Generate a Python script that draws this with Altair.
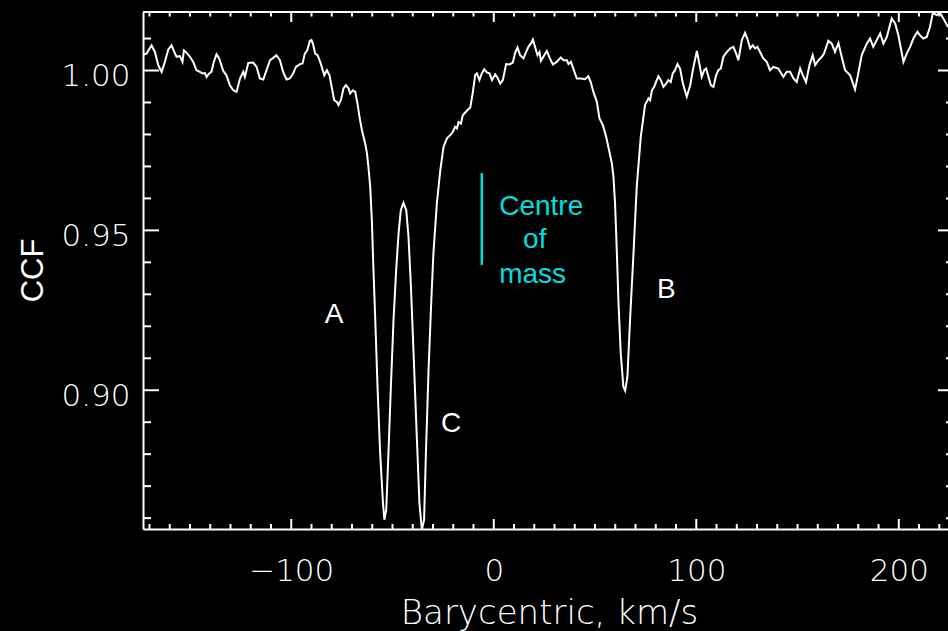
import altair as alt
import pandas as pd

# ---- CCF curve (km/s, CCF) ----
V = [-173.1, -171.4, -169.0, -167.3, -165.7, -164.0, -162.4, -160.7, -159.1, -157.4,
     -156.6, -155.0, -153.7, -153.0, -151.7, -150.0, -148.4, -146.8, -145.1, -143.8,
     -142.6, -141.8, -140.5, -139.4, -138.2, -136.9, -135.6, -133.6, -132.0, -130.3,
     -128.6, -127.0, -125.3, -123.7, -122.9, -121.2, -118.8, -117.1, -115.5, -113.8,
     -112.2, -110.5, -109.2, -107.3, -105.6, -104.0, -102.3, -100.7, -99.0, -97.7,
     -95.7, -94.4, -93.3, -92.1, -90.8, -90.0, -89.3, -88.2, -87.0, -86.0,
     -84.9, -83.7, -82.4, -81.1, -79.9, -78.8, -77.5, -76.7, -75.5, -74.2,
     -73.0, -71.7, -70.9, -69.6, -68.4, -67.3, -66.3, -65.1, -63.5, -62.6,
     -61.9, -61.0, -60.2, -59.4, -58.5, -57.4, -56.1, -54.7, -54.0, -53.1,
     -52.0, -50.8, -49.5, -48.2, -47.0, -45.9, -44.6, -43.2, -42.1, -40.9,
     -39.6, -38.0, -36.7, -35.5, -34.4, -33.5, -32.2, -30.9, -29.8, -28.1,
     -26.4, -24.8, -23.1, -21.5, -20.2, -19.1, -18.2, -17.4, -16.2, -15.3,
     -13.3, -11.6, -10.3, -9.2, -8.3, -7.1, -5.9, -4.7, -3.4, -2.1,
     -0.9, 0.7, 1.8, 3.2, 4.5, 6.1, 7.8, 9.4, 10.6, 11.7,
     13.0, 14.7, 16.0, 17.1, 18.3, 19.3, 20.4, 21.6, 22.6, 23.3,
     24.5, 26.2, 27.5, 29.2, 31.1, 33.1, 34.4, 36.1, 36.9, 38.1,
     39.3, 41.0, 43.0, 45.1, 46.7, 47.9, 49.2, 50.9, 52.2, 53.9,
     55.5, 57.1, 58.3, 59.1, 59.9, 60.8, 61.6, 62.7, 64.0, 64.9,
     66.0, 67.3, 69.0, 70.6, 72.6, 74.7, 76.4, 77.2, 78.1, 79.2,
     80.5, 81.3, 82.5, 83.8, 85.1, 86.2, 87.4, 88.4, 89.5, 90.7,
     92.0, 93.4, 95.3, 97.0, 98.6, 100.3, 101.5, 102.7, 103.9, 104.9,
     106.0, 107.2, 108.5, 109.8, 110.9, 112.1, 113.4, 115.1, 116.7, 118.3,
     119.7, 120.8, 122.5, 124.1, 125.2, 126.6, 127.9, 129.0, 130.2, 131.5,
     133.1, 134.8, 136.4, 138.1, 140.5, 143.0, 144.7, 146.3, 148.0, 149.6,
     151.3, 152.6, 154.2, 155.9, 157.5, 158.7, 160.3, 162.0, 163.1, 165.2,
     166.9, 168.5, 170.2, 171.8, 173.5, 176.0, 178.4, 180.0, 181.7, 184.2,
     185.8, 187.4, 189.1, 190.8, 192.4, 194.1, 196.5, 198.2, 199.8, 202.3,
     203.9, 205.6, 207.2, 209.2, 210.5, 212.1, 213.8, 215.4, 216.8, 218.7,
     220.4, 222.0, 224.3]

CCF = [1.0050, 1.0053, 1.0079, 1.0058, 1.0017, 0.9996, 1.0027, 1.0066, 1.0079, 1.0053,
       1.0043, 1.0045, 1.0027, 1.0063, 1.0056, 1.0043, 1.0027, 1.0001, 0.9996, 0.9991,
       0.9992, 0.9980, 0.9991, 0.9996, 1.0027, 1.0051, 1.0038, 0.9999, 0.9985, 0.9954,
       0.9938, 0.9933, 0.9975, 0.9996, 0.9980, 1.0024, 1.0025, 1.0011, 0.9975, 0.9972,
       1.0001, 1.0032, 1.0038, 1.0048, 1.0032, 0.9996, 0.9972, 0.9975, 0.9991, 1.0011,
       1.0020, 1.0022, 1.0053, 1.0063, 1.0093, 1.0095, 1.0084, 1.0053, 1.0048, 1.0032,
       1.0011, 0.9985, 1.0001, 0.9985, 0.9944, 0.9907, 0.9902, 0.9892, 0.9907, 0.9944,
       0.9954, 0.9944, 0.9928, 0.9938, 0.9933, 0.9897, 0.9855, 0.9813, 0.9772, 0.9741,
       0.9699, 0.9636, 0.9532, 0.9376, 0.9219, 0.9011, 0.8803, 0.8647, 0.8595, 0.8626,
       0.8803, 0.9011, 0.9219, 0.9376, 0.9491, 0.9563, 0.9586, 0.9563, 0.9480, 0.9324,
       0.9116, 0.8855, 0.8647, 0.8563, 0.8595, 0.8803, 0.9063, 0.9272, 0.9428, 0.9584,
       0.9688, 0.9761, 0.9788, 0.9798, 0.9808, 0.9824, 0.9819, 0.9839, 0.9834, 0.9860,
       0.9874, 0.9884, 0.9933, 0.9985, 0.9991, 0.9970, 0.9991, 1.0004, 0.9994, 0.9991,
       0.9970, 0.9988, 0.9978, 0.9959, 0.9970, 1.0020, 1.0019, 1.0025, 1.0056, 1.0072,
       1.0048, 1.0038, 1.0058, 1.0074, 1.0084, 1.0097, 1.0074, 1.0048, 1.0058, 1.0030,
       1.0043, 1.0061, 1.0041, 1.0019, 1.0027, 1.0041, 1.0032, 1.0032, 1.0020, 1.0027,
       1.0006, 0.9975, 0.9975, 0.9973, 0.9982, 0.9964, 0.9933, 0.9902, 0.9850, 0.9829,
       0.9793, 0.9746, 0.9710, 0.9668, 0.9584, 0.9428, 0.9272, 0.9116, 0.9011, 0.8999,
       0.9043, 0.9220, 0.9428, 0.9636, 0.9793, 0.9892, 0.9913, 0.9907, 0.9938, 0.9949,
       0.9970, 0.9982, 0.9970, 0.9949, 0.9959, 0.9970, 0.9964, 0.9991, 1.0001, 1.0020,
       1.0006, 0.9959, 0.9918, 0.9954, 1.0011, 1.0061, 1.0022, 0.9980, 1.0001, 1.0006,
       0.9980, 0.9954, 0.9949, 0.9985, 1.0001, 1.0006, 1.0043, 1.0058, 1.0069, 1.0074,
       1.0053, 1.0032, 1.0095, 1.0118, 1.0100, 1.0069, 1.0079, 1.0069, 1.0074, 1.0058,
       1.0038, 1.0027, 1.0001, 1.0011, 1.0006, 0.9980, 0.9996, 0.9996, 0.9975, 0.9964,
       1.0006, 0.9985, 0.9964, 1.0017, 1.0048, 1.0017, 1.0032, 1.0043, 1.0053, 1.0093,
       1.0084, 1.0058, 1.0086, 1.0043, 1.0001, 0.9985, 0.9941, 0.9991, 1.0048, 1.0084,
       1.0100, 1.0074, 1.0095, 1.0116, 1.0084, 1.0105, 1.0163, 1.0147, 1.0110, 1.0027,
       1.0053, 1.0074, 1.0100, 1.0121, 1.0110, 1.0100, 1.0105, 1.0136, 1.0180, 1.0173,
       1.0180, 1.0163, 1.0136]

# ---- axes / ticks ----
X_DOMAIN = [-173.2, 224.3]
Y_DOMAIN = [0.8566, 1.0183]
X_MAJOR = [-100, 0, 100, 200]
X_MINOR = [-170, -160, -150, -140, -130, -120, -110, -90, -80, -70, -60, -50, -40,
           -30, -20, -10, 10, 20, 30, 40, 50, 60, 70, 80, 90, 110, 120, 130, 140,
           150, 160, 170, 180, 190, 210, 220]
Y_MAJOR = [0.90, 0.95, 1.00]
Y_MINOR = [0.86, 0.87, 0.88, 0.89, 0.91, 0.92, 0.93, 0.94, 0.96, 0.97, 0.98, 0.99, 1.01]

# ---- annotations ----
LETTERS = ["A", "B", "C"]
LETTER_V = [-78.8, 85.2, -21.0]
LETTER_Y = [0.9209, 0.9288, 0.8869]

COM_TEXT = ["Centre", "of", "mass"]
COM_V = [2.7, 14.5, 2.7]
COM_Y = [0.9548, 0.9445, 0.9335]
COM_LINE_V = -5.9
COM_LINE_Y = [0.9392, 0.9679]

W, H = 805, 517
AXFONT = "DejaVu Sans"
TXTFONT = "Liberation Sans"
CYAN = "#00dede"

xs = alt.Scale(domain=X_DOMAIN, nice=False, zero=False)
ys = alt.Scale(domain=Y_DOMAIN, nice=False, zero=False)

df = pd.DataFrame({"v": V, "ccf": CCF})

line = alt.Chart(df).mark_line(color="white", strokeWidth=2, clip=True).encode(
    x=alt.X("v:Q", scale=xs, axis=alt.Axis(
        values=X_MAJOR, format="d", ticks=False, tickSize=0, grid=False,
        domain=True, domainColor="white", domainWidth=2,
        labelColor="white", labelFont=AXFONT, labelFontSize=31, labelFontWeight=200,
        labelBaseline="alphabetic", labelPadding=51, labelFlush=False,
        title="Barycentric, km/s", titleColor="white", titleFont=AXFONT,
        titleFontSize=34, titleFontWeight=200, titleX=406, titleY=94,
        titleBaseline="alphabetic", titleAnchor="middle")),
    y=alt.Y("ccf:Q", scale=ys, axis=alt.Axis(
        values=Y_MAJOR, format=".2f", ticks=False, tickSize=0, grid=False,
        domain=True, domainColor="white", domainWidth=2,
        labelColor="white", labelFont=AXFONT, labelFontSize=31, labelFontWeight=200,
        labelBaseline="alphabetic", labelOffset=15, labelPadding=13, labelFlush=False,
        title="CCF", titleColor="white", titleFont=TXTFONT, titleFontSize=31,
        titleFontWeight="normal", titleX=-101, titleY=258, titleAngle=270,
        titleBaseline="alphabetic", titleAlign="center")),
)

ymaj = pd.DataFrame({"ccf": Y_MAJOR})
ymin = pd.DataFrame({"ccf": Y_MINOR})
xmaj = pd.DataFrame({"v": X_MAJOR})
xmin = pd.DataFrame({"v": X_MINOR})

def yticks(d, x0, x1):
    return alt.Chart(d).mark_rule(color="white", strokeWidth=2).encode(
        y=alt.Y("ccf:Q", scale=ys), x=alt.value(x0), x2=alt.value(x1))

def xticks(d, y0, y1):
    return alt.Chart(d).mark_rule(color="white", strokeWidth=2).encode(
        x=alt.X("v:Q", scale=xs), y=alt.value(y0), y2=alt.value(y1))

top_frame = alt.Chart(pd.DataFrame({"v": [0]})).mark_rule(color="white", strokeWidth=2).encode(
    x=alt.value(0), x2=alt.value(W), y=alt.value(0))

ticks = [
    yticks(ymaj, 0, 16), yticks(ymin, 0, 8),
    yticks(ymaj, W - 10, W), yticks(ymin, W - 2, W),
    xticks(xmaj, H - 10, H), xticks(xmin, H - 5, H),
    xticks(xmaj, 0, 10), xticks(xmin, 0, 4.5),
]

letters = alt.Chart(pd.DataFrame({"t": LETTERS, "v": LETTER_V, "ccf": LETTER_Y})).mark_text(
    color="white", font=TXTFONT, fontSize=28, align="center", baseline="alphabetic").encode(
    x=alt.X("v:Q", scale=xs), y=alt.Y("ccf:Q", scale=ys), text="t:N")

com_text = alt.Chart(pd.DataFrame({"t": COM_TEXT, "v": COM_V, "ccf": COM_Y})).mark_text(
    color=CYAN, font=TXTFONT, fontSize=28, align="left", baseline="alphabetic").encode(
    x=alt.X("v:Q", scale=xs), y=alt.Y("ccf:Q", scale=ys), text="t:N")

com_line = alt.Chart(pd.DataFrame({"v": [COM_LINE_V], "ccf": [COM_LINE_Y[0]], "ccf2": [COM_LINE_Y[1]]})).mark_rule(
    color=CYAN, strokeWidth=2.5).encode(
    x=alt.X("v:Q", scale=xs), y=alt.Y("ccf:Q", scale=ys), y2="ccf2:Q")

chart = alt.layer(line, top_frame, *ticks, letters, com_text, com_line).properties(
    width=W, height=H,
    padding={"left": 143, "top": 12, "right": 0, "bottom": 102},
    autosize=alt.AutoSizeParams(type="none"),
).configure(background="black").configure_view(stroke=None)

chart.save("out.html", embed_options={"renderer": "svg", "actions": False})
